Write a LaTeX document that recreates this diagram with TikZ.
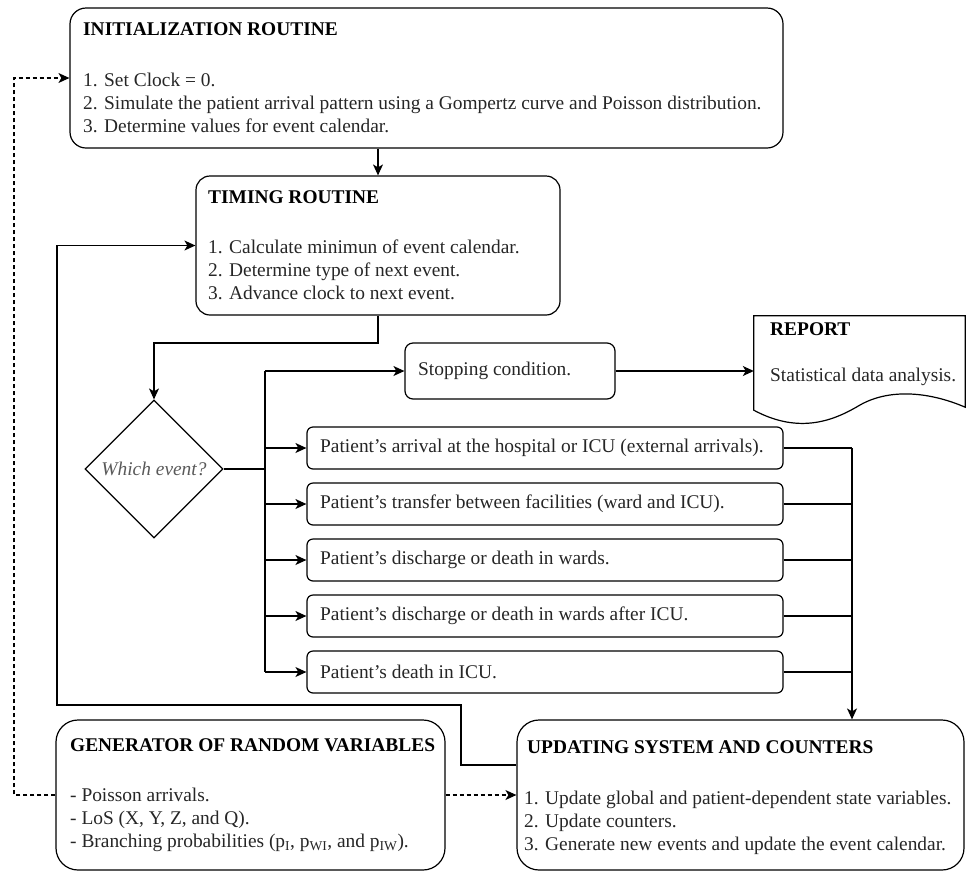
\documentclass[tikz,border=0pt]{standalone}
\usepackage{fontspec}
\setmainfont{Liberation Serif}
\usetikzlibrary{shapes.geometric,arrows.meta}
\begin{document}
\begin{tikzpicture}[x=1pt,y=-1pt,
  box/.style={draw, line width=1.2pt, rounded corners=#1, rectangle, inner sep=0pt},
  body/.style={font=\fontsize{19.4}{23}\selectfont, text=black!85, align=left, inner sep=0pt, anchor=west},
  ttl/.style={font=\fontsize{19.4}{23}\selectfont\bfseries, text=black, inner sep=0pt, anchor=west},
  ln/.style={line width=1.2pt},
  arr/.style={line width=1.2pt, -{Stealth[length=11pt,width=10pt,inset=3pt]}},
  dsh/.style={line width=1.1pt, dash pattern=on 4pt off 3pt, -{Stealth[length=11pt,width=10pt,inset=3pt]}}
]
\useasboundingbox (0,0) rectangle (966,871);

% Initialization
\node[box=16pt, minimum width=713pt, minimum height=140pt] (init) at (426.5,78) {};
\node[ttl] (initT) at (83,29) {INITIALIZATION ROUTINE};
\node[body] (initB) at (83,103) {1. Set Clock = 0.\\2. Simulate the patient arrival pattern using a Gompertz curve and Poisson distribution.\\3. Determine values for event calendar.};

% Timing
\node[box=14pt, minimum width=364pt, minimum height=139pt] (timing) at (378,245.5) {};
\node[ttl] (timT) at (208,197) {TIMING ROUTINE};
\node[body] (timB) at (208,270) {1. Calculate minimun of event calendar.\\2. Determine type of next event.\\3. Advance clock to next event.};

% Decision
\node[diamond, draw, line width=1.2pt, minimum width=138pt, minimum height=138pt, inner sep=0pt, aspect=1, font=\fontsize{19.4}{23}\selectfont\itshape, text=black!65] (dia) at (154,469) {Which event?};

% Stopping
\node[box=8pt, minimum width=210pt, minimum height=56pt] (stop) at (510,371) {};
\node[body] (stopT) at (418,371) {Stopping condition.};

% Report
\node[inner sep=0pt, minimum width=211pt, minimum height=94pt] (report) at (859.5,363) {};
\draw[ln] (report.south west) -- (report.north west) -- (report.north east) -- ([yshift=3pt]report.south east)
  .. controls (930,392) and (890,388) .. (860,405)
  .. controls (835,420) and (800,435) .. (report.south west) -- cycle;
\node[ttl] (repT) at (770,329) {REPORT};
\node[body] (repB) at (770,377) {Statistical data analysis.};

% Events
\node[box=6pt, minimum width=476pt, minimum height=42pt] (ev1) at (545,448) {};
\node[box=6pt, minimum width=476pt, minimum height=42pt] (ev2) at (545,504) {};
\node[box=6pt, minimum width=476pt, minimum height=42pt] (ev3) at (545,560) {};
\node[box=6pt, minimum width=476pt, minimum height=42pt] (ev4) at (545,616) {};
\node[box=6pt, minimum width=476pt, minimum height=42pt] (ev5) at (545,672) {};
\node[body] (ev1T) at (320,448) {Patient's arrival at the hospital or ICU (external arrivals).};
\node[body] (ev2T) at (320,504) {Patient's transfer between facilities (ward and ICU).};
\node[body] (ev3T) at (320,560) {Patient's discharge or death in wards.};
\node[body] (ev4T) at (320,616) {Patient's discharge or death in wards after ICU.};
\node[body] (ev5T) at (320,672) {Patient's death in ICU.};

% Generator
\node[box=22pt, minimum width=389pt, minimum height=150pt] (gen) at (250.5,795) {};
\node[ttl] (genT) at (70,745) {GENERATOR OF RANDOM VARIABLES};
\node[body] (genB) at (70,820) {- Poisson arrivals.\\- LoS (X, Y, Z, and Q).\\- Branching probabilities (p\textsubscript{I}, p\textsubscript{WI}, and p\textsubscript{IW}).};

% Updating
\node[box=22pt, minimum width=447pt, minimum height=150pt] (upd) at (740.5,795) {};
\node[ttl] (updT) at (527,747) {UPDATING SYSTEM AND COUNTERS};
\node[body] (updB) at (524,823) {1. Update global and patient-dependent state variables.\\2. Update counters.\\3. Generate new events and update the event calendar.};

% Connectors
\draw[arr] (init.south -| timing.north) -- (timing.north);
\coordinate (t1) at (378,343);
\draw[arr] (timing.south) -- (t1) -| (dia.north);

\coordinate (busTop) at (265,371);
\draw[ln] (dia.east) -- (dia.east -| busTop);
\draw[ln] (busTop) -- (ev5.west -| busTop);
\draw[arr] (busTop) -- (stop.west);
\foreach \e in {ev1,ev2,ev3,ev4,ev5} {
  \draw[arr] (\e.west -| busTop) -- (\e.west);
}
\draw[arr] (stop.east) -- (stop.east -| report.west);

\coordinate (rb) at (852,448);
\foreach \e in {ev1,ev2,ev3,ev4,ev5} {
  \draw[ln] (\e.east) -- (\e.east -| rb);
}
\draw[arr] (rb) -- (rb |- upd.north);

\coordinate (lp1) at (461,705);
\coordinate (lp2) at (57,705);
\draw[arr] ([yshift=30pt]upd.west) -| (lp1) -- (lp2) |- (timing.west);

\coordinate (dl) at (14,795);
\draw[dsh] (gen.west) -- (dl) |- (init.west);
\draw[dsh] (gen.east) -- (upd.west);
\end{tikzpicture}
\end{document}
